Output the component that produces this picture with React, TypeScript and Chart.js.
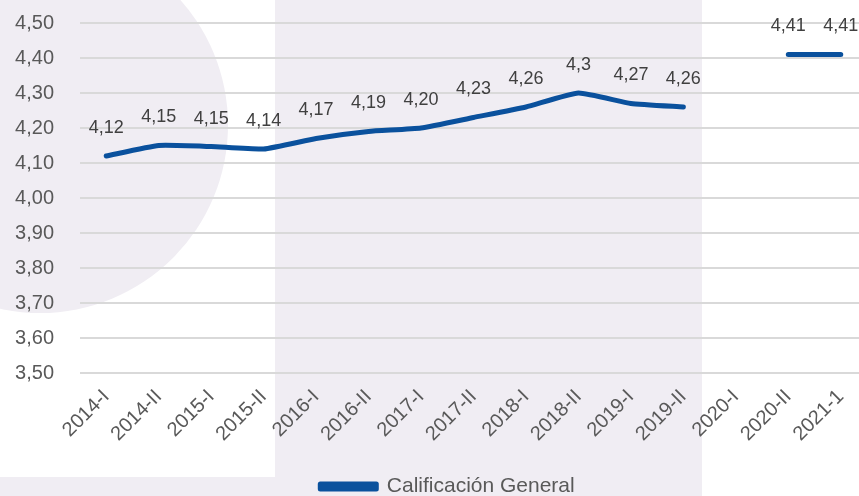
import React, { useEffect, useRef } from "react";
import { Chart, registerables } from "chart.js";

Chart.register(...registerables);

const categories = [
  "2014-I", "2014-II", "2015-I", "2015-II", "2016-I", "2016-II", "2017-I", "2017-II",
  "2018-I", "2018-II", "2019-I", "2019-II", "2020-I", "2020-II", "2021-1",
];
const values: (number | null)[] = [
  4.12, 4.15, 4.147, 4.14, 4.17, 4.19, 4.2, 4.23, 4.26, 4.3, 4.27, 4.26, null, 4.41, 4.41,
];
const valueLabels = [
  "4,12", "4,15", "4,15", "4,14", "4,17", "4,19", "4,20", "4,23", "4,26", "4,3", "4,27", "4,26", "", "4,41", "4,41",
];
const seriesName = "Calificación General";
const yMin = 3.5;
const yMax = 4.5;
const yStep = 0.1;

const FONT = "'Liberation Sans', Arial, sans-serif";
const BLUE = "#0a519d";
const BG = "#f0edf3";

const dataLabelPlugin = {
  id: "dataLabels",
  afterDatasetsDraw(chart: any) {
    const ctx = chart.ctx;
    const meta = chart.getDatasetMeta(0);
    ctx.save();
    ctx.font = `18px ${FONT}`;
    ctx.fillStyle = "#404040";
    ctx.textAlign = "center";
    ctx.textBaseline = "middle";
    meta.data.forEach((pt: any, i: number) => {
      if (values[i] == null || !valueLabels[i]) return;
      ctx.fillText(valueLabels[i], pt.x, pt.y - 28);
    });
    ctx.restore();
  },
};

const legendShiftPlugin = {
  id: "legendShift",
  afterLayout(chart: any) {
    const lg = chart.legend;
    if (lg) {
      lg.left += 14;
      lg.right += 14;
    }
  },
};

export default function App() {
  const ref = useRef<HTMLCanvasElement>(null);
  useEffect(() => {
    if (!ref.current) return;
    const chart = new Chart(ref.current, {
      type: "line",
      data: {
        labels: categories,
        datasets: [
          {
            label: seriesName,
            data: values,
            borderColor: BLUE,
            backgroundColor: BLUE,
            borderWidth: 5,
            borderCapStyle: "round",
            borderJoinStyle: "round",
            pointRadius: 0,
            pointHoverRadius: 0,
            tension: 0.15,
            spanGaps: false,
          },
        ],
      },
      options: {
        responsive: false,
        animation: false,
        devicePixelRatio: 1,
        layout: { padding: { top: 23, right: 27, left: 0, bottom: 0 } },
        plugins: {
          tooltip: { enabled: false },
          legend: {
            position: "bottom",
            labels: {
              boxWidth: 56,
              boxHeight: 5,
              padding: 10,
              color: "#595959",
              font: { size: 21, family: FONT },
            },
          },
        },
        scales: {
          x: {
            offset: true,
            grid: { display: false, drawTicks: false },
            border: { display: false },
            ticks: {
              color: "#595959",
              font: { size: 20, family: FONT },
              maxRotation: 45,
              minRotation: 45,
              autoSkip: false,
              padding: 12,
            },
            afterFit: (s: any) => {
              s.height = 93;
            },
          },
          y: {
            min: yMin,
            max: yMax,
            grid: { color: "#d9d9d9", lineWidth: 2, drawTicks: false },
            border: { display: false },
            ticks: {
              stepSize: yStep,
              color: "#595959",
              font: { size: 20, family: FONT },
              padding: 26,
              callback: (v: any) => Number(v).toFixed(2).replace(".", ","),
            },
            afterFit: (s: any) => {
              s.width = 80;
              s.paddingTop = 0;
              s.paddingBottom = 0;
            },
          },
        },
      },
      plugins: [dataLabelPlugin, legendShiftPlugin],
    });
    return () => chart.destroy();
  }, []);

  return (
    <div
      style={{
        position: "absolute",
        left: 0,
        top: 0,
        width: 859,
        height: 496,
        overflow: "hidden",
        background: "#ffffff",
      }}
    >
      <div
        style={{
          position: "absolute",
          left: -148,
          top: -63,
          width: 376,
          height: 376,
          borderRadius: "50%",
          background: BG,
        }}
      />
      <div style={{ position: "absolute", left: 275, top: 0, width: 427, height: 496, background: BG }} />
      <div style={{ position: "absolute", left: 0, top: 477, width: 275, height: 19, background: BG }} />
      <canvas
        ref={ref}
        width={894}
        height={507}
        style={{ position: "absolute", left: 0, top: 0, width: 894, height: 507 }}
      />
    </div>
  );
}
